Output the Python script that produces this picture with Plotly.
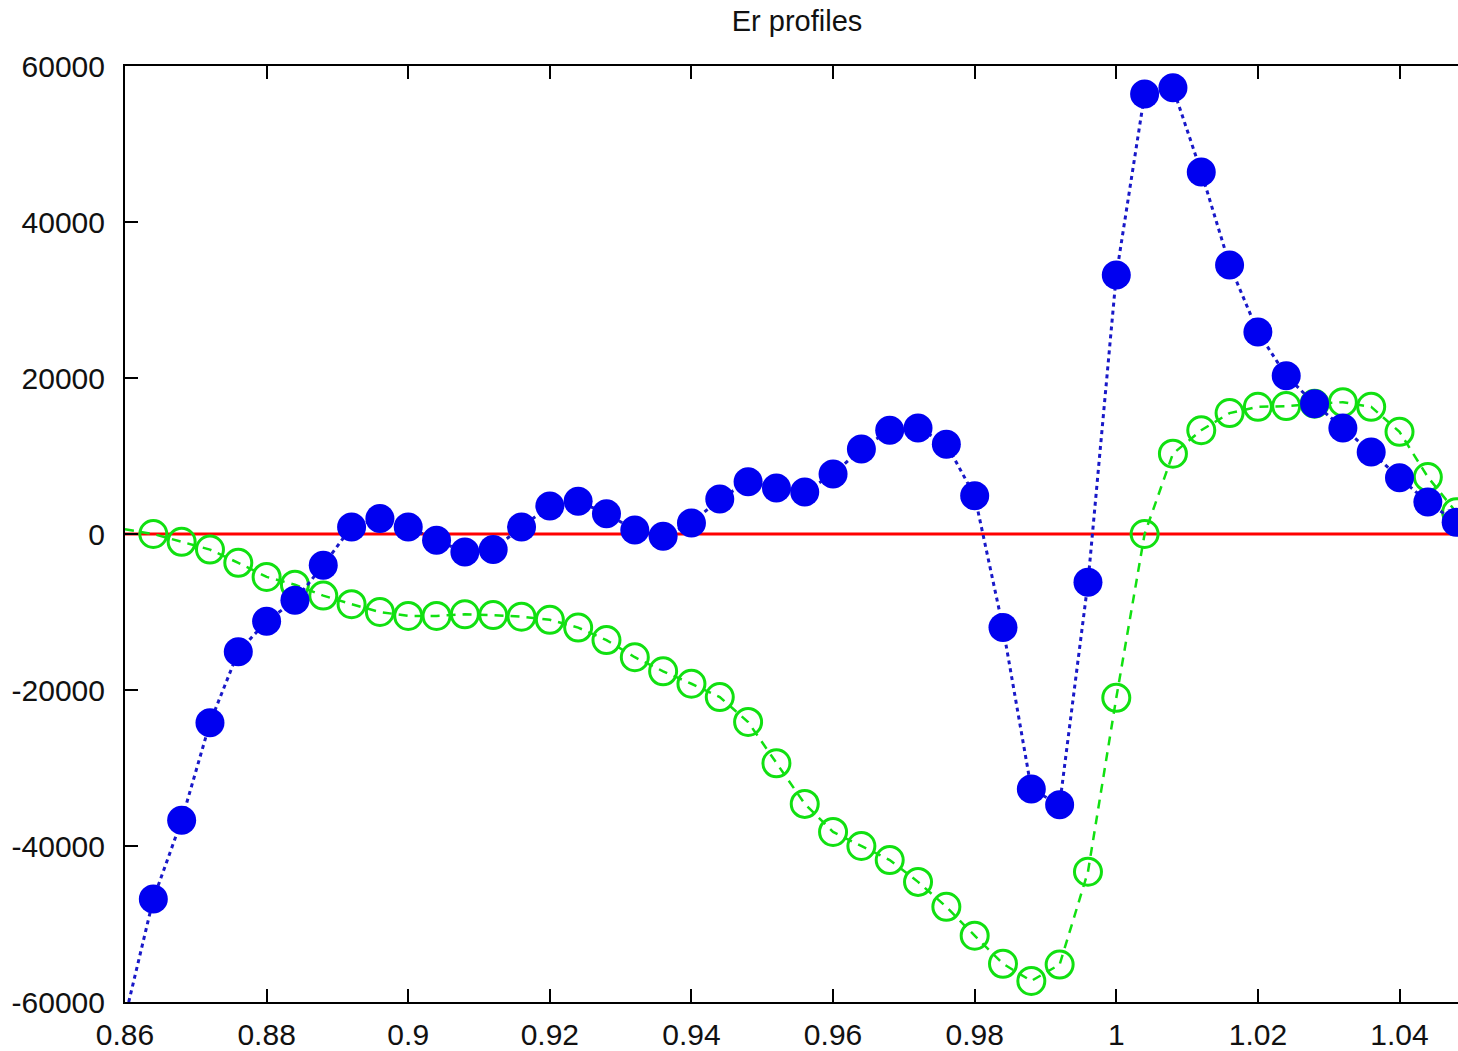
import plotly.graph_objects as go

# Radial positions (normalised radius) and Er values for the two profiles
r_vals = [
    0.860, 0.864, 0.868, 0.872, 0.876, 0.880, 0.884, 0.888, 0.892, 0.896,
    0.900, 0.904, 0.908, 0.912, 0.916, 0.920, 0.924, 0.928, 0.932, 0.936,
    0.940, 0.944, 0.948, 0.952, 0.956, 0.960, 0.964, 0.968, 0.972, 0.976,
    0.980, 0.984, 0.988, 0.992, 0.996, 1.000, 1.004, 1.008, 1.012, 1.016,
    1.020, 1.024, 1.028, 1.032, 1.036, 1.040, 1.044, 1.048,
]

er_measured = [
    -62000, -46800, -36700, -24200, -15100, -11200, -8500, -4000, 900, 2000,
    900, -800, -2300, -2000, 900, 3600, 4200, 2600, 500, -300,
    1400, 4500, 6700, 5900, 5400, 7700, 10900, 13300, 13600, 11500,
    4900, -12000, -32700, -34700, -6200, 33200, 56400, 57200, 46400, 34500,
    25900, 20300, 16700, 13600, 10500, 7200, 4100, 1500,
]

er_model = [
    600, 0, -1000, -2000, -3700, -5500, -6500, -7900, -9000, -10000,
    -10500, -10500, -10300, -10400, -10600, -11000, -12000, -13600, -15800, -17600,
    -19200, -20900, -24100, -29400, -34600, -38200, -40000, -41800, -44600, -47800,
    -51500, -55100, -57300, -55200, -43300, -21000, 0, 10300, 13300, 15500,
    16300, 16400, 16700, 16900, 16300, 13100, 7300, 2800,
]

x_ticks = [0.86, 0.88, 0.90, 0.92, 0.94, 0.96, 0.98, 1.00, 1.02, 1.04]
x_tick_labels = ["0.86", "0.88", "0.9", "0.92", "0.94", "0.96", "0.98", "1", "1.02", "1.04"]
y_ticks = [-60000, -40000, -20000, 0, 20000, 40000, 60000]
y_tick_labels = ["-60000", "-40000", "-20000", "0", "20000", "40000", "60000"]

X_MIN, X_MAX = 0.86, 1.04826
Y_MIN, Y_MAX = -60000, 60000

FONT = "Liberation Sans, Arial, sans-serif"
BLUE_LINE = "#1818c8"
BLUE_MARK = "#0000f0"
GREEN = "#11e011"

fig = go.Figure()

# zero reference line
fig.add_trace(go.Scatter(
    x=[X_MIN, X_MAX], y=[0, 0], mode="lines",
    line=dict(color="#ff0000", width=3), hoverinfo="skip",
))

# model profile: dashed line through every point, open circles from the first interior point
fig.add_trace(go.Scatter(
    x=r_vals, y=er_model, mode="lines",
    line=dict(color=GREEN, width=2.5, dash="9px,7px"),
))
fig.add_trace(go.Scatter(
    x=r_vals[1:], y=er_model[1:], mode="markers",
    marker=dict(symbol="circle-open", size=27, color=GREEN, line=dict(color=GREEN, width=3)),
))

# measured profile: dotted line and filled circles
fig.add_trace(go.Scatter(
    x=r_vals, y=er_measured, mode="lines",
    line=dict(color=BLUE_LINE, width=3, dash="4px,4px"),
))
fig.add_trace(go.Scatter(
    x=r_vals[1:], y=er_measured[1:], mode="markers",
    marker=dict(symbol="circle", size=29, color=BLUE_MARK, line=dict(width=0)),
))

fig.update_layout(
    width=1458, height=1051,
    margin=dict(l=125, r=0, t=66, b=49),
    paper_bgcolor="white", plot_bgcolor="white",
    showlegend=False,
    font=dict(family=FONT, size=30, color="#111111"),
    title=dict(
        text="Er profiles", font=dict(family=FONT, size=29, color="#111111"),
        xref="container", x=797 / 1458, xanchor="center",
        yref="container", y=1 - 21 / 1051, yanchor="middle",
    ),
)

fig.update_xaxes(
    range=[X_MIN, X_MAX], tickvals=x_ticks, ticktext=x_tick_labels,
    showgrid=False, zeroline=False,
    showline=True, linecolor="black", linewidth=2, mirror="ticks",
    ticks="inside", ticklen=13, tickwidth=2, tickcolor="black",
    ticklabelstandoff=5,
)
fig.update_yaxes(
    range=[Y_MIN, Y_MAX], tickvals=y_ticks, ticktext=y_tick_labels,
    showgrid=False, zeroline=False,
    showline=True, linecolor="black", linewidth=2,
    ticks="inside", ticklen=13, tickwidth=2, tickcolor="black",
    ticklabelstandoff=12,
)

fig.write_html("out.html")
